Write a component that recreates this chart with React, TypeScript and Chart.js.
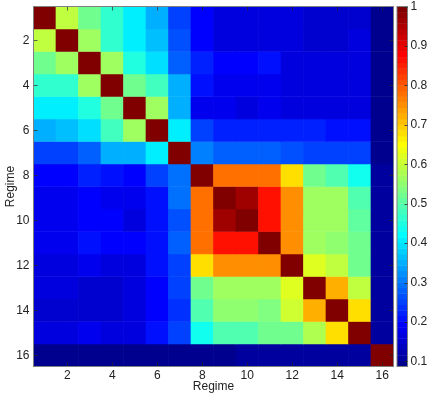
import React, { useEffect, useRef } from 'react';
import { Chart, registerables } from 'chart.js';

Chart.register(...registerables);

// ---------- data ----------
const regimes = ['1', '2', '3', '4', '5', '6', '7', '8', '9', '10', '11', '12', '13', '14', '15', '16'];
const axisTicks = [2, 4, 6, 8, 10, 12, 14, 16];
const colorbarTicks = [0.1, 0.2, 0.3, 0.4, 0.5, 0.6, 0.7, 0.8, 0.9, 1];
const CMIN = 0.087;
const CMAX = 1;

const row01 = [1, 0.6, 0.515, 0.46, 0.415, 0.355, 0.25, 0.19, 0.172, 0.172, 0.172, 0.165, 0.158, 0.158, 0.158, 0.09];
const row02 = [0.6, 1, 0.558, 0.46, 0.415, 0.37, 0.263, 0.195, 0.172, 0.172, 0.172, 0.165, 0.158, 0.158, 0.165, 0.09];
const row03 = [0.515, 0.558, 1, 0.558, 0.444, 0.4, 0.285, 0.22, 0.19, 0.19, 0.208, 0.172, 0.165, 0.165, 0.165, 0.09];
const row04 = [0.46, 0.465, 0.558, 1, 0.52, 0.473, 0.35, 0.208, 0.18, 0.18, 0.18, 0.172, 0.165, 0.165, 0.165, 0.09];
const row05 = [0.415, 0.415, 0.444, 0.52, 1, 0.565, 0.35, 0.18, 0.18, 0.165, 0.18, 0.165, 0.165, 0.165, 0.165, 0.09];
const row06 = [0.355, 0.363, 0.4, 0.473, 0.565, 1, 0.41, 0.25, 0.22, 0.22, 0.22, 0.22, 0.22, 0.208, 0.214, 0.095];
const row07 = [0.255, 0.255, 0.285, 0.35, 0.35, 0.405, 1, 0.307, 0.285, 0.278, 0.285, 0.27, 0.255, 0.25, 0.25, 0.1];
const row08 = [0.19, 0.19, 0.22, 0.208, 0.19, 0.255, 0.3, 1, 0.786, 0.786, 0.772, 0.677, 0.515, 0.487, 0.43, 0.108];
const row09 = [0.18, 0.18, 0.19, 0.18, 0.18, 0.214, 0.29, 0.786, 1, 0.958, 0.858, 0.757, 0.558, 0.558, 0.5, 0.108];
const row10 = [0.18, 0.18, 0.19, 0.19, 0.172, 0.208, 0.27, 0.786, 0.958, 1, 0.858, 0.757, 0.558, 0.558, 0.507, 0.11];
const row11 = [0.18, 0.18, 0.208, 0.19, 0.19, 0.208, 0.285, 0.772, 0.858, 0.858, 1, 0.757, 0.565, 0.544, 0.515, 0.11];
const row12 = [0.172, 0.172, 0.18, 0.172, 0.172, 0.205, 0.255, 0.677, 0.757, 0.757, 0.757, 1, 0.615, 0.6, 0.515, 0.115];
const row13 = [0.165, 0.165, 0.158, 0.158, 0.172, 0.2, 0.25, 0.515, 0.558, 0.558, 0.572, 0.62, 1, 0.715, 0.594, 0.115];
const row14 = [0.152, 0.152, 0.158, 0.158, 0.165, 0.19, 0.237, 0.487, 0.544, 0.544, 0.53, 0.608, 0.715, 1, 0.68, 0.115];
const row15 = [0.165, 0.172, 0.18, 0.165, 0.165, 0.208, 0.25, 0.43, 0.487, 0.5, 0.515, 0.515, 0.58, 0.68, 1, 0.115];
const row16 = [0.092, 0.092, 0.092, 0.092, 0.092, 0.1, 0.1, 0.1, 0.1, 0.115, 0.115, 0.115, 0.115, 0.115, 0.115, 1];

const matrix = [row01, row02, row03, row04, row05, row06, row07, row08, row09, row10, row11, row12, row13, row14, row15, row16];

// ---------- MATLAB jet(64) colormap ----------
const NCOL = 64;
function jetU(j: number): number {
  if (j < 1 || j > 47) return 0;
  if (j <= 16) return j / 16;
  if (j <= 31) return 1;
  return (48 - j) / 16;
}
function jetColor(k: number): string {
  // k is 1..64
  const r = jetU(k - 24);
  const g = jetU(k - 8);
  const b = jetU(k + 8);
  return `rgb(${Math.round(r * 255)},${Math.round(g * 255)},${Math.round(b * 255)})`;
}
function colorFor(v: number): string {
  let k = Math.floor(((v - CMIN) / (CMAX - CMIN)) * NCOL) + 1;
  if (k < 1) k = 1;
  if (k > NCOL) k = NCOL;
  return jetColor(k);
}

const FONT = "'Liberation Sans', Helvetica, Arial, sans-serif";
const TEXT = '#222222';
const FRAME = '#7f7f7f';

const framePlugin = {
  id: 'frameAndColorbar',
  afterDatasetsDraw(chart: any) {
    const { ctx, chartArea } = chart;
    const { left, right, top, bottom } = chartArea;
    const xs = chart.scales.x;
    const ys = chart.scales.y;
    const cs = chart.scales.y2;
    ctx.save();
    // inward tick marks
    ctx.strokeStyle = 'rgba(40,40,40,0.7)';
    ctx.lineWidth = 1;
    ctx.beginPath();
    for (const t of axisTicks) {
      const x = Math.round(xs.getPixelForValue(t - 1)) + 0.5;
      ctx.moveTo(x, bottom);
      ctx.lineTo(x, bottom - 4);
      ctx.moveTo(x, top);
      ctx.lineTo(x, top + 4);
      const y = Math.round(ys.getPixelForValue(t)) + 0.5;
      ctx.moveTo(left, y);
      ctx.lineTo(left + 4, y);
      ctx.moveTo(right, y);
      ctx.lineTo(right - 4, y);
    }
    ctx.stroke();
    // frame
    ctx.strokeStyle = FRAME;
    ctx.strokeRect(left, top, right - left, bottom - top);

    // colorbar
    const x0 = right + 3.5;
    const w = 10.5;
    const step = (CMAX - CMIN) / NCOL;
    for (let k = 1; k <= NCOL; k++) {
      const lo = CMIN + (k - 1) * step;
      const hi = lo + step;
      const yLo = cs.getPixelForValue(lo);
      const yHi = cs.getPixelForValue(hi);
      ctx.fillStyle = jetColor(k);
      ctx.fillRect(x0, yHi, w, yLo - yHi + 0.4);
    }
    ctx.strokeStyle = FRAME;
    ctx.strokeRect(x0, cs.getPixelForValue(CMAX), w, cs.getPixelForValue(CMIN) - cs.getPixelForValue(CMAX));
    ctx.strokeStyle = 'rgba(40,40,40,0.8)';
    ctx.beginPath();
    for (const t of colorbarTicks) {
      const y = Math.round(cs.getPixelForValue(t)) + 0.5;
      ctx.moveTo(x0 + w, y);
      ctx.lineTo(x0 + w - 3, y);
    }
    ctx.stroke();
    ctx.restore();
  },
};

export default function App() {
  const ref = useRef<HTMLCanvasElement | null>(null);

  useEffect(() => {
    if (!ref.current) return;
    const datasets = matrix.map((row, i) => ({
      label: 'Regime ' + (i + 1),
      data: regimes.map(() => [i + 0.5, i + 1.5]),
      backgroundColor: row.map(colorFor),
      borderWidth: 0,
      grouped: false,
      barPercentage: 1,
      categoryPercentage: 1,
      yAxisID: 'y',
      xAxisID: 'x',
    }));

    const chart = new Chart(ref.current, {
      type: 'bar',
      data: { labels: regimes, datasets: datasets as any },
      options: {
        animation: false,
        responsive: false,
        layout: { padding: { top: 6.5, left: 0, right: 0, bottom: 0 } },
        plugins: { legend: { display: false }, tooltip: { enabled: false } },
        scales: {
          x: {
            type: 'category',
            offset: true,
            grid: { display: false, drawTicks: false },
            border: { display: false },
            ticks: {
              autoSkip: false,
              maxRotation: 0,
              padding: 2,
              color: TEXT,
              font: { family: FONT, size: 12 },
              callback: (_v: any, idx: number) => (axisTicks.includes(idx + 1) ? regimes[idx] : ''),
            },
            title: { display: true, text: 'Regime', color: TEXT, font: { family: FONT, size: 12 }, padding: { top: 0, bottom: 0 } },
            afterFit: (s: any) => {
              s.height = 27.5;
              s.paddingLeft = 0;
              s.paddingRight = 0;
            },
          },
          y: {
            type: 'linear',
            position: 'left',
            min: 0.5,
            max: 16.5,
            reverse: true,
            grid: { display: false, drawTicks: false },
            border: { display: false },
            afterBuildTicks: (s: any) => {
              s.ticks = axisTicks.map((v) => ({ value: v }));
            },
            ticks: {
              padding: 4,
              color: TEXT,
              font: { family: FONT, size: 12 },
              callback: (v: any) => String(v),
            },
            title: { display: true, text: 'Regime', color: TEXT, font: { family: FONT, size: 12 }, padding: { top: 3, bottom: 0 } },
            afterFit: (s: any) => {
              s.width = 33.5;
              s.paddingTop = 0;
              s.paddingBottom = 0;
            },
          },
          y2: {
            type: 'linear',
            position: 'right',
            min: CMIN,
            max: CMAX,
            grid: { drawOnChartArea: false, drawTicks: true, tickLength: 15, color: 'rgba(0,0,0,0)' },
            border: { display: false },
            afterBuildTicks: (s: any) => {
              s.ticks = colorbarTicks.map((v) => ({ value: v }));
            },
            ticks: {
              padding: 2,
              color: TEXT,
              font: { family: FONT, size: 12 },
              callback: (v: any) => (Number(v) === 1 ? '1' : Number(v).toFixed(1)),
            },
            afterFit: (s: any) => {
              s.width = 42.5;
              s.paddingTop = 0;
              s.paddingBottom = 0;
            },
          },
        },
      } as any,
      plugins: [framePlugin],
    });
    return () => chart.destroy();
  }, []);

  return (
    <div style={{ position: 'fixed', left: 0, top: 0, width: 436, height: 394, background: '#fff' }}>
      <canvas ref={ref} width={436} height={394} style={{ display: 'block' }} />
    </div>
  );
}
